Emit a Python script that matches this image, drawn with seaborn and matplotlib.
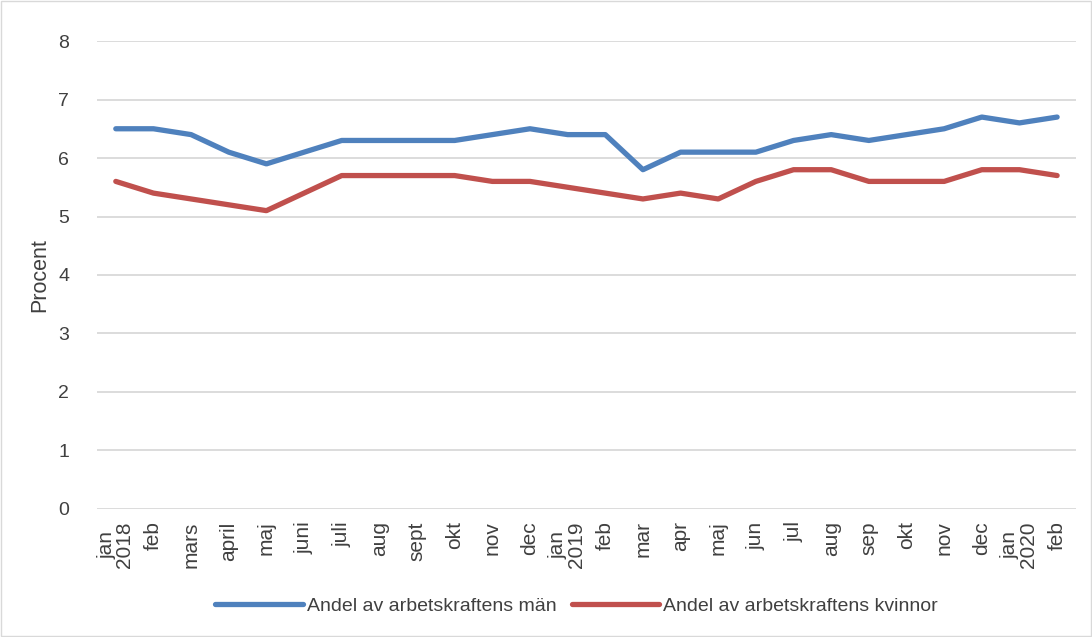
import pandas as pd
import seaborn as sns
import matplotlib.pyplot as plt

months = ['jan\n2018', 'feb', 'mars', 'april', 'maj', 'juni', 'juli', 'aug', 'sept', 'okt', 'nov', 'dec',
          'jan\n2019', 'feb', 'mar', 'apr', 'maj', 'jun', 'jul', 'aug', 'sep', 'okt', 'nov', 'dec',
          'jan\n2020', 'feb']

man = [6.5, 6.5, 6.4, 6.1, 5.9, 6.1, 6.3, 6.3, 6.3, 6.3, 6.4, 6.5,
       6.4, 6.4, 5.8, 6.1, 6.1, 6.1, 6.3, 6.4, 6.3, 6.4, 6.5, 6.7,
       6.6, 6.7]

kvinnor = [5.6, 5.4, 5.3, 5.2, 5.1, 5.4, 5.7, 5.7, 5.7, 5.7, 5.6, 5.6,
           5.5, 5.4, 5.3, 5.4, 5.3, 5.6, 5.8, 5.8, 5.6, 5.6, 5.6, 5.8,
           5.8, 5.7]

series_names = ['Andel av arbetskraftens män', 'Andel av arbetskraftens kvinnor']
palette = ["#4F81BD", "#C0504D"]

df = pd.DataFrame({'pos': list(range(len(months))) * 2,
                   'value': man + kvinnor,
                   'serie': [series_names[0]] * len(man) + [series_names[1]] * len(kvinnor)})

sns.set_style("white")
plt.rcParams['font.family'] = ['Liberation Sans', 'DejaVu Sans']

fig = plt.figure(figsize=(10.92, 6.37), dpi=100)
fig.patches.append(plt.Rectangle((0.001, 0.001), 0.998, 0.998, transform=fig.transFigure,
                                 fill=False, edgecolor='#D9D9D9', linewidth=1))
ax = fig.add_axes([0.0888, 0.201, 0.8965, 0.7346])

sns.lineplot(data=df, x='pos', y='value', hue='serie', hue_order=series_names,
             palette=palette, linewidth=3.8, ax=ax, solid_capstyle='round')

ax.set_xlim(-0.5, len(months) - 0.5)
ax.set_ylim(0, 8)
ax.set_yticks(range(0, 9))
ax.yaxis.grid(True, color='#D9D9D9', linewidth=1.3)
ax.set_xticks(range(len(months)))
ax.set_xticklabels(months, rotation=90, fontsize=15, color='#404040', linespacing=0.95)
ax.tick_params(axis='y', labelsize=14, colors='#404040', length=0, pad=20)
ax.tick_params(axis='x', length=0, pad=9)
for s in ax.spines.values():
    s.set_visible(False)
ax.set_xlabel('')
ax.set_ylabel('Procent', fontsize=15.5, color='#404040', labelpad=6)

ax.legend(loc='upper center', bbox_to_anchor=(0.49, -0.152), ncol=2, frameon=False,
          fontsize=14, handlelength=4.5, columnspacing=0.8, handletextpad=0.2,
          labelcolor='#404040')

plt.savefig("out.png", dpi=100)
